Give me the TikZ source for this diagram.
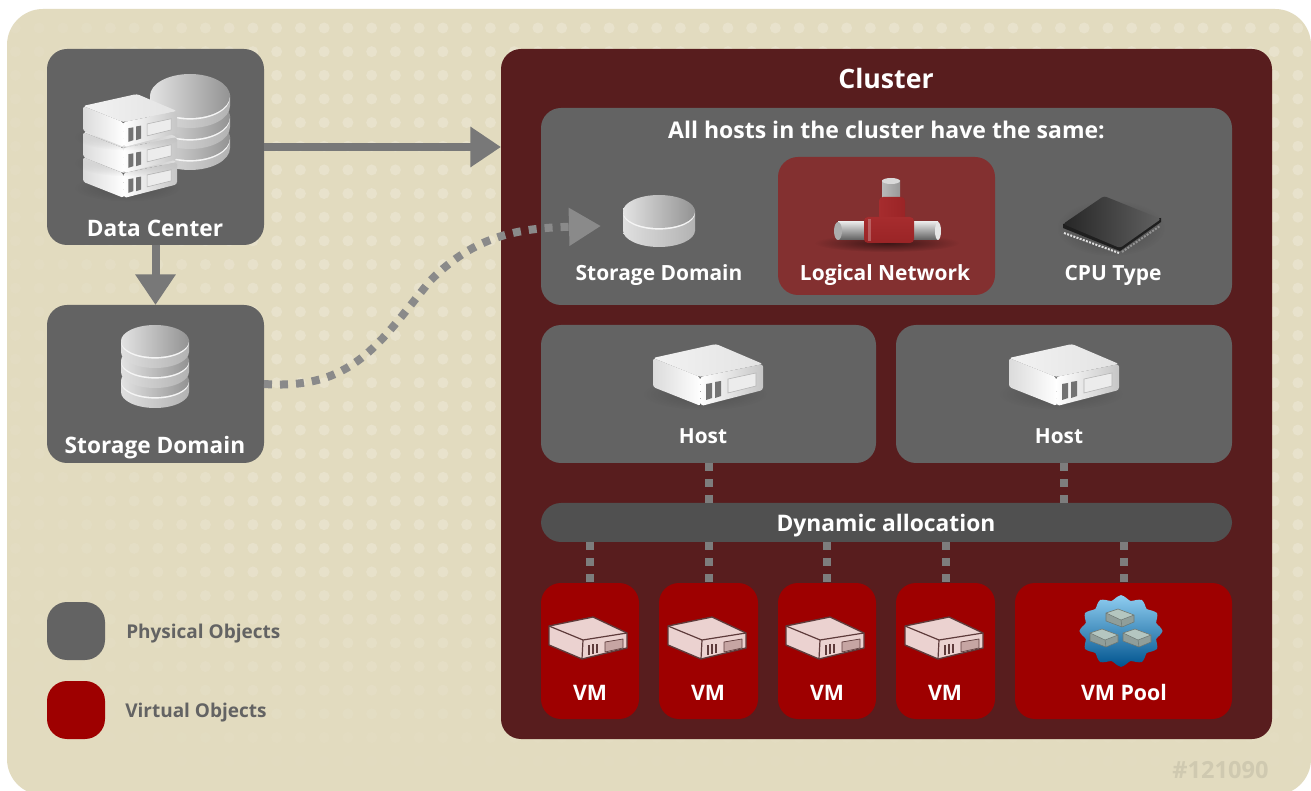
\documentclass[tikz,border=0pt]{standalone}
\usepackage{fontspec}
\setmainfont{Open Sans}[BoldFont=* Bold]
\usetikzlibrary{arrows.meta,shapes.geometric,fadings}
\definecolor{bgtan}{HTML}{E2DBBF}
\definecolor{dotc}{HTML}{E8E2CC}
\definecolor{physc}{HTML}{636363}
\definecolor{virtc}{HTML}{9E0000}
\definecolor{clusterc}{HTML}{581D1E}
\definecolor{lognetc}{HTML}{833030}
\definecolor{dync}{HTML}{505050}
\definecolor{linkc}{HTML}{787878}
\definecolor{dotlinkc}{HTML}{8A8A8A}
\definecolor{vmink}{HTML}{5E3B3B}
\definecolor{vmpink}{HTML}{EBD2D0}
\definecolor{vmwin}{HTML}{C6A5A3}
\definecolor{poolsrv}{HTML}{B4C6C0}
\definecolor{numc}{HTML}{CFC9B0}
\definecolor{burstA}{HTML}{8FCDF0}
\definecolor{burstB}{HTML}{128AD6}
\definecolor{burstC}{HTML}{00548F}
\definecolor{pipeA}{HTML}{A62C2E}
\definecolor{pipeB}{HTML}{D65054}
\definecolor{pipeC}{HTML}{9A2426}
\tikzset{
  box/.style={anchor=north west,inner sep=0pt,outer sep=0pt,rounded corners=15pt},
  phys/.style={box,fill=physc},
  virt/.style={box,fill=virtc},
  lab/.style={text=white,font=\fontsize{#1}{20}\selectfont\bfseries,inner sep=0pt,anchor=base},
  lab/.default=17,
  leglab/.style={text=physc,font=\fontsize{14.25}{16}\selectfont\bfseries,inner sep=0pt,anchor=base west},
  solidlink/.style={draw=linkc,line width=6pt},
  dotlink/.style={draw=linkc!70!dotlinkc,line width=6pt,dash pattern=on 6pt off 6pt},
}
\tikzfading[name=softedge,inner color=transparent!0,outer color=transparent!100]
\newcommand{\bx}[6]{\node[#1,minimum width={(#5-#3)*0.75},minimum height={(#6-#4)*0.75}] (#2) at (#3,#4) {};}
% light server: origin at upper-left of its bounding box, 110 x 62 px at scale 1
\newcommand{\serverw}[3]{\begin{scope}[shift={(#1,#2)},scale=#3]
  \fill[black,opacity=.18,path fading=softedge] (52,50) ellipse [x radius=62,y radius=16];
  \shade[left color=white!90!gray,right color=white!78!gray,rounded corners=2pt] (0,14)--(63,0)--(110,20)--(47,33)--cycle;
  \shade[left color=white!72!gray,right color=white,rounded corners=2pt] (0,14)--(47,33)--(48,62)--(0,43)--cycle;
  \shade[left color=white,right color=white!55!gray,rounded corners=2pt] (47,33)--(110,20)--(110,46)--(48,62)--cycle;
  \fill[black!55] (53,40)--(59,39)--(59,54)--(53,56)--cycle;
  \fill[black!55] (62,38)--(68,37)--(68,52)--(62,54)--cycle;
  \filldraw[fill=white!85!gray,draw=white!40!gray,line width=.4pt] (75,35)--(103,29)--(103,42)--(75,49)--cycle;
\end{scope}}
% pink VM server
\newcommand{\servervm}[2]{\begin{scope}[shift={(#1,#2)},line join=round]
  \filldraw[fill=vmpink,draw=vmink,line width=1pt] (0,9)--(44,0)--(78,16)--(78,31)--(33,42)--(0,28)--cycle;
  \draw[vmink,line width=.9pt] (0,9)--(34,23)--(78,16) (34,23)--(33,42);
  \filldraw[fill=vmwin,draw=vmink,line width=.5pt] (56,25)--(74,22)--(74,31)--(56,35)--cycle;
  \draw[vmink,line width=.9pt] (40,28)--(40,38) (44,27)--(44,37) (48,27)--(48,36);
\end{scope}}
% mini server in the pool
\newcommand{\serverp}[2]{\begin{scope}[shift={(#1,#2)},line join=round]
  \fill[poolsrv!80!black] (-14,-5)--(-2,-9)--(14,-3)--(14,4)--(2,9)--(-14,3)--cycle;
  \fill[poolsrv] (-14,-5)--(-2,-9)--(14,-3)--(1,2)--cycle;
  \draw[poolsrv!60!black,line width=.4pt] (-14,-5)--(-2,-9)--(14,-3)--(14,4)--(2,9)--(-14,3)--cycle (-14,-5)--(1,2)--(14,-3) (1,2)--(2,9);
\end{scope}}
% disk layer: cx, ytop-ellipse-centre, rx, ry, height
\newcommand{\disklayer}[5]{
  \shade[left color=white!75!gray,middle color=black!52,right color=white!40!gray] (#1,#2+#5) ellipse [x radius=#3,y radius=#4];
  \shade[left color=white!75!gray,middle color=black!52,right color=white!40!gray] (#1-#3,#2) rectangle (#1+#3,#2+#5);
  \fill[white!92!gray] (#1,#2+1.6) ellipse [x radius=#3,y radius=#4];
  \shade[left color=white!78!gray,middle color=white!60!gray,right color=white!15!gray] (#1,#2) ellipse [x radius=#3,y radius=#4];
}
\begin{document}
\begin{tikzpicture}[x=0.75pt,y=-0.75pt]
\useasboundingbox (0,0) rectangle (1311,791);
\fill[white] (0,0) rectangle (1311,791);
\fill[bgtan] (7,9) [rounded corners=27pt] -- (1311,9) -- (1311,795) -- (7,795) -- cycle;
\begin{scope}
  \clip (7,9) [rounded corners=27pt] -- (1311,9) -- (1311,795) -- (7,795) -- cycle;
  \foreach \i in {0,...,54}{\foreach \j in {0,...,31}{
    \pgfmathsetmacro{\dx}{15.4+23.75*\i}
    \pgfmathsetmacro{\dy}{28+23.65*\j}
    \pgfmathsetmacro{\op}{min(1,max(0,(790-\dy)/240))*min(1,max(0.25,\dx/270))}
    \fill[dotc,opacity=\op] (\dx,\dy) circle [radius=5.5];
  }}
\end{scope}

% boxes
\bx{phys}{dc}{47}{49}{264}{245}
\bx{phys}{sd}{47}{305}{264}{463}
\bx{phys}{legphys}{47}{602}{105}{660}
\bx{virt}{legvirt}{47}{681}{105}{739}
\bx{box,fill=clusterc}{cluster}{501}{49}{1272}{739}
\bx{phys}{same}{541}{108}{1232}{305}
\bx{box,fill=lognetc}{lognet}{778}{157}{995}{295}
\bx{phys}{host1}{541}{325}{876}{463}
\bx{phys}{host2}{896}{325}{1232}{463}
\bx{box,fill=dync}{dyn}{541}{503}{1232}{542}
\bx{virt}{vm1}{541}{583}{639}{719}
\bx{virt}{vm2}{659}{583}{758}{719}
\bx{virt}{vm3}{778}{583}{876}{719}
\bx{virt}{vm4}{896}{583}{995}{719}
\bx{virt}{pool}{1015}{583}{1232}{719}
\coordinate (sdtip) at (601,226);

% connectors
\draw[solidlink,-{Triangle[length=23pt,width=29pt]}] (dc.east) -- (dc.east -| cluster.west);
\draw[solidlink,-{Triangle[length=23pt,width=29pt]}] (dc.south) -- (sd.north);
\draw[draw=dotlinkc,line width=6pt,dash pattern=on 6pt off 6pt,-{Triangle[length=24pt,width=27pt]}] (sd.east) .. controls (352,390) and (378,345) .. (430,281) .. controls (475,235) and (520,228) .. (sdtip);
\foreach \h in {host1,host2}{\draw[dotlink] (\h.south) -- (\h.south |- dyn.north);}
\foreach \v in {vm1,vm2,vm3,vm4,pool}{\draw[dotlink] (dyn.south -| \v.north) -- (\v.north);}

% icons: data centre
\foreach \yy in {138,117,96}{\disklayer{190}{\yy}{40}{22}{10}}
\foreach \yy in {145,120,94}{\serverw{83}{\yy}{0.855}}
% icons: storage domain stack
\foreach \yy in {381,361,341}{\disklayer{155}{\yy}{34}{16}{11}}
% single disk
\disklayer{659}{211.5}{36}{16.5}{19}
% logical network pipe
\fill[black,opacity=.55,path fading=softedge] (887,243) ellipse [x radius=72,y radius=9];
\shade[left color=white!45!gray,middle color=white!85!gray,right color=white!20!gray] (882,181) rectangle (900,198);
\fill[white!70!gray] (891,181) ellipse [x radius=9,y radius=3];
\shade[top color=white!80!gray,middle color=white!40!gray,bottom color=black!25!gray] (838,222) rectangle (938,240);
\fill[white!80!gray] (938,231) ellipse [x radius=3,y radius=9];
\fill[white!35!gray] (838,231) ellipse [x radius=4,y radius=9];
\shade[left color=pipeA,middle color=pipeB,right color=pipeC,rounded corners=3pt] (879,197) -- (905,197) -- (905,220) -- (879,220) -- cycle;
\shade[top color=pipeA,middle color=pipeB,bottom color=pipeC,rounded corners=3pt] (864,217) -- (914,217) -- (914,243) -- (864,243) -- cycle;
\fill[white,opacity=.25] (868,219) rectangle (871,241);
% cpu chip
\fill[black,opacity=.3,path fading=softedge] (1111,228) ellipse [x radius=54,y radius=28];
\draw[white!75!gray,line width=1.5pt,dash pattern=on 1.5pt off 1pt] (1064,233)--(1119,253);
\draw[white!15!gray,line width=1.5pt,dash pattern=on 1.5pt off 1pt] (1122,252)--(1160,226);
\fill[black!88] (1063,224)--(1063,228)--(1120,251)--(1161,222)--(1161,218)--cycle;
\shade[left color=black!85,right color=black!62,rounded corners=2pt] (1063,224)--(1104,196)--(1161,219)--(1120,248)--cycle;
% hosts
\serverw{653}{344}{1}
\serverw{1009}{344}{1}
% VMs
\servervm{549}{617}
\servervm{668}{617}
\servervm{786}{617}
\servervm{905}{617}
% pool burst
\shade[top color=burstA,middle color=burstB,bottom color=burstC]
  plot[smooth cycle,samples=48,domain=0:352.5] ({1121+(39+2.6*cos(12*\x))*cos(\x)},{631+(33.5+2.4*cos(12*\x))*sin(\x)});
\serverp{1120}{618}
\serverp{1104}{638}
\serverp{1137}{638}

% labels
\node[lab=20] (tcluster) at (886,88.5) {Cluster};
\node[lab=17.25] (tsame) at (886.5,139) {All hosts in the cluster have the same:};
\node[lab] (tdc) at (155,237) {Data Center};
\node[lab] (tsd) at (155,454) {Storage Domain};
\node[lab=15.7] (tsd2) at (659,281) {Storage Domain};
\node[lab=15.7] (tln) at (885,281) {Logical Network};
\node[lab=15.7] (tcpu) at (1113,281) {CPU Type};
\node[lab=15.6] (th1) at (703,444) {Host};
\node[lab=15.6] (th2) at (1059,444) {Host};
\node[lab=17.1] (tdyn) at (886,532) {Dynamic allocation};
\node[lab=16] (tv1) at (590,700) {VM};
\node[lab=16] (tv2) at (708,700) {VM};
\node[lab=16] (tv3) at (827,700) {VM};
\node[lab=16] (tv4) at (945,700) {VM};
\node[lab=16] (tpool) at (1124,700) {VM Pool};
\node[leglab] (tphys) at (126,638) {Physical Objects};
\node[leglab] (tvirt) at (125,717) {Virtual Objects};
\node[text=numc,font=\fontsize{17.7}{20}\selectfont\bfseries,inner sep=0pt,anchor=base] (tnum) at (1220.5,778) {\#121090};
\end{tikzpicture}
\end{document}
